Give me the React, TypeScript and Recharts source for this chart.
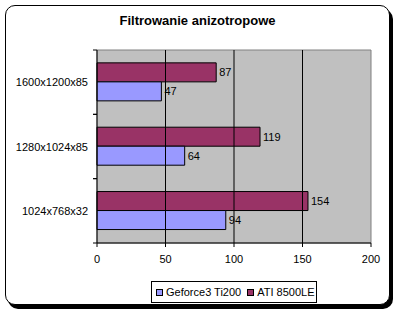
import React from 'react';
import { BarChart, Bar, XAxis, YAxis, ReferenceArea, ReferenceLine, LabelList, Legend } from 'recharts';

const categories = ['1600x1200x85', '1280x1024x85', '1024x768x32'];
const geforce = [47, 64, 94];
const ati = [87, 119, 154];
const xTicks = [0, 50, 100, 150, 200];
const gridValues = [50, 100, 150];
const seriesNames = ['Geforce3 Ti200', 'ATI 8500LE'];
const seriesKeys = ['geforce', 'ati'];
const colors = ['#9999FF', '#993366'];
const title = 'Filtrowanie anizotropowe';

const data = categories.map((c, i) => ({ name: c, geforce: geforce[i], ati: ati[i] }));

const FONT = '"Liberation Sans", Arial, sans-serif';
const TICK_SIZE = 4;
const TICK_MARGIN = 5;

const YTick = (props: any) => {
  const { x, y, payload } = props;
  const off = payload && typeof payload.offset === 'number' ? payload.offset : 0;
  const ax = x + TICK_SIZE + TICK_MARGIN;
  return (
    <g>
      <text x={x} y={y} textAnchor="end" dominantBaseline="central" fontSize={11} fill="#000" fontFamily={FONT}>
        {payload.value}
      </text>
      <line x1={ax - TICK_SIZE} x2={ax} y1={y - off} y2={y - off} stroke="#000" />
      <line x1={ax - TICK_SIZE} x2={ax} y1={y + off} y2={y + off} stroke="#000" />
    </g>
  );
};

const renderLegend = (props: any) => {
  const payload = [...(props.payload || [])].sort(
    (a: any, b: any) => seriesNames.indexOf(a.value) - seriesNames.indexOf(b.value)
  );
  return (
    <div
      style={{
        boxSizing: 'border-box',
        width: 166,
        height: 22,
        border: '1px solid #000',
        background: '#fff',
        display: 'flex',
        alignItems: 'center',
        paddingLeft: 4,
        fontFamily: FONT,
        fontSize: 11,
        color: '#000',
        whiteSpace: 'nowrap',
        overflow: 'hidden',
      }}
    >
      {payload.map((p: any, i: number) => (
        <span
          key={p.value}
          style={{ display: 'flex', alignItems: 'center', flexShrink: 0, whiteSpace: 'nowrap', marginRight: i === 0 ? 6 : 0 }}
        >
          <span
            style={{
              display: 'inline-block',
              boxSizing: 'border-box',
              width: 7,
              height: 7,
              flexShrink: 0,
              background: p.color,
              border: '1px solid #000',
              marginRight: 3,
            }}
          />
          <span style={{ whiteSpace: 'nowrap' }}>{p.value}</span>
        </span>
      ))}
    </div>
  );
};

export default function App() {
  return (
    <div style={{ position: 'absolute', left: 0, top: 0, width: 400, height: 314, background: '#fff' }}>
      <div
        style={{
          position: 'absolute',
          left: 5,
          top: 5,
          width: 383,
          height: 298,
          border: '1px solid #000',
          borderRadius: 10,
          boxShadow: '3px 4px 0 #000',
          background: '#fff',
        }}
      />
      <div
        style={{
          position: 'absolute',
          left: 5,
          width: 385,
          top: 13,
          textAlign: 'center',
          fontFamily: FONT,
          fontWeight: 'bold',
          fontSize: 13,
          lineHeight: '15px',
          color: '#000',
        }}
      >
        {title}
      </div>
      <div style={{ position: 'absolute', left: 0, top: 0 }}>
        <BarChart
          width={400}
          height={314}
          data={data}
          layout="vertical"
          margin={{ top: 50, right: 29, bottom: 41, left: 7 }}
          barCategoryGap="20%"
          barGap={0}
          style={{ fontFamily: FONT }}
        >
          <ReferenceArea x1={0} x2={200} fill="#C0C0C0" fillOpacity={1} stroke="#808080" strokeWidth={1} ifOverflow="visible" />
          {gridValues.map((v) => (
            <ReferenceLine key={v} x={v} stroke="#000" strokeWidth={1} />
          ))}
          <XAxis
            type="number"
            domain={[0, 200]}
            ticks={xTicks}
            height={30}
            tickSize={4}
            tickMargin={8}
            axisLine={{ stroke: '#000' }}
            tickLine={{ stroke: '#000' }}
            tick={{ fill: '#000', fontSize: 11, fontFamily: FONT }}
            interval={0}
          />
          <YAxis
            type="category"
            dataKey="name"
            width={90}
            tickSize={TICK_SIZE}
            tickMargin={TICK_MARGIN}
            axisLine={{ stroke: '#000' }}
            tickLine={false}
            tick={<YTick />}
            interval={0}
          />
          <Legend
            verticalAlign="middle"
            align="center"
            layout="horizontal"
            content={renderLegend}
            wrapperStyle={{ position: 'absolute', left: 151, top: 281, width: 166, height: 22 }}
          />
          <Bar dataKey={seriesKeys[1]} name={seriesNames[1]} fill={colors[1]} stroke="#000" strokeWidth={1} isAnimationActive={false}>
            <LabelList dataKey={seriesKeys[1]} position="right" offset={3} fill="#000" fontSize={11} fontFamily={FONT} />
          </Bar>
          <Bar dataKey={seriesKeys[0]} name={seriesNames[0]} fill={colors[0]} stroke="#000" strokeWidth={1} isAnimationActive={false}>
            <LabelList dataKey={seriesKeys[0]} position="right" offset={3} fill="#000" fontSize={11} fontFamily={FONT} />
          </Bar>
        </BarChart>
      </div>
    </div>
  );
}
